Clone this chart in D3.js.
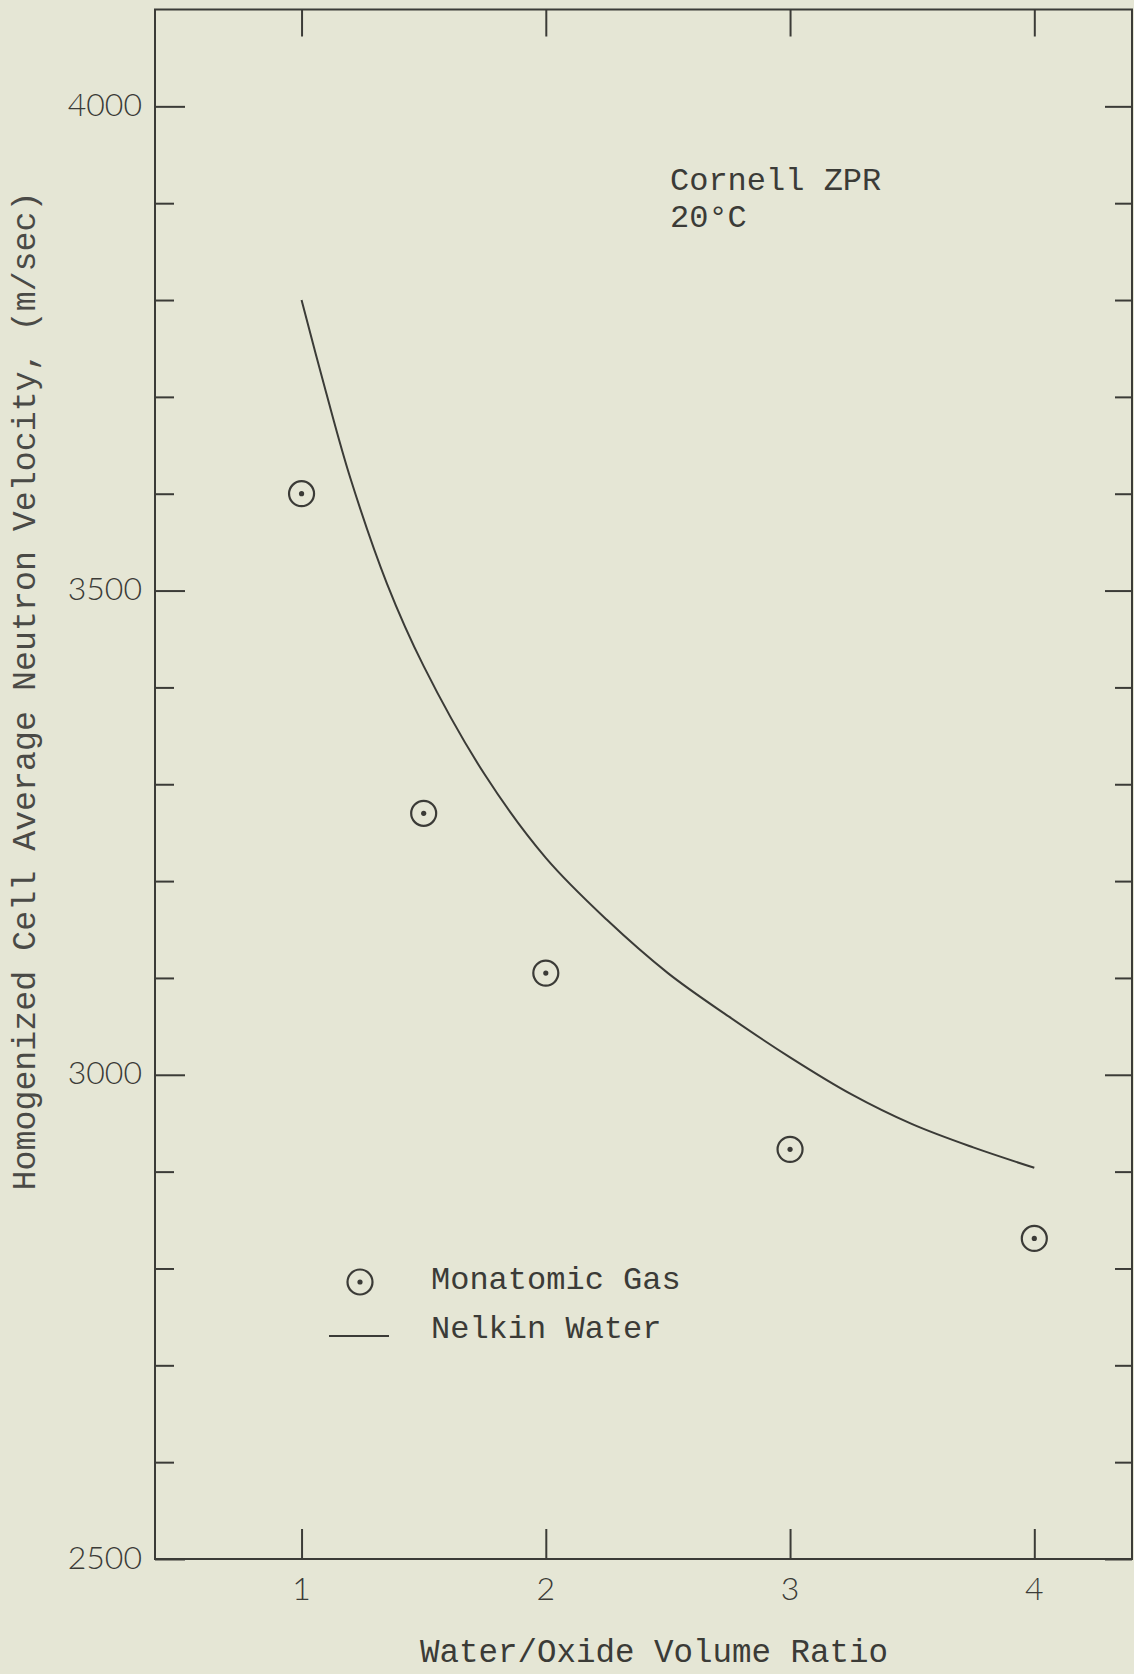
<!DOCTYPE html>
<html>
<head>
<meta charset="utf-8">
<script src="https://cdn.jsdelivr.net/npm/d3@7/dist/d3.min.js"></script>
<style>
  html, body { margin: 0; padding: 0; background: #e5e6d5; }
  svg { display: block; }
</style>
</head>
<body>
<script>
// Monatomic gas model: measured cell-average velocities
const gasRatio    = [1.0, 1.5, 2.0, 3.0, 4.0];
const gasVelocity = [3600, 3270, 3105, 2923, 2831];

// Nelkin water model curve
const nelkinRatio    = [1.0, 1.1, 1.2, 1.35, 1.5, 1.75, 2.0, 2.25, 2.5, 2.75, 3.0, 3.25, 3.5, 3.75, 4.0];
const nelkinVelocity = [3800, 3705, 3616, 3507, 3422, 3310, 3224, 3160, 3105, 3060, 3018, 2980, 2949, 2925, 2904];

// Axis ticks and labels
const xTicks = [1, 2, 3, 4];
const yMajorTicks = [2500, 3000, 3500, 4000];
const yMinorTicks = d3.range(2600, 4100, 100).filter(v => v % 500 !== 0);

const legendLabels = ["Monatomic Gas", "Nelkin Water"];
const noteLines = ["Cornell ZPR", "20\u00B0C"];
const xTitle = "Water/Oxide Volume Ratio";
const yTitle = "Homogenized Cell Average Neutron Velocity, (m/sec)";

const W = 1134, H = 1674;
const ink = "#3b3b37";
const mono = "'Liberation Mono', 'Courier New', monospace";
const sans = "Lato, 'Liberation Sans', sans-serif";

const svg = d3.select("body").append("svg")
  .attr("width", W).attr("height", H);

svg.append("rect").attr("width", W).attr("height", H).attr("fill", "#e5e6d5");

const plotLeft = 155, plotRight = 1132, plotTop = 9.5, plotBottom = 1559;

const x = d3.scaleLinear().domain([0.4, 4.4]).range([plotLeft, plotRight]);
const y = d3.scaleLinear().domain([2500, 4100]).range([plotBottom, plotTop]);

// Frame
svg.append("rect")
  .attr("x", plotLeft).attr("y", plotTop)
  .attr("width", plotRight - plotLeft).attr("height", plotBottom - plotTop)
  .attr("fill", "none").attr("stroke", ink).attr("stroke-width", 2);

// Axes drawn inward on all four sides
function styleAxis(g) {
  g.select(".domain").remove();
  g.selectAll(".tick line").attr("stroke", ink).attr("stroke-width", 2);
}

// left
svg.append("g").attr("transform", `translate(${plotLeft},0)`)
  .call(d3.axisRight(y).tickValues(yMajorTicks).tickSize(30).tickFormat(""))
  .call(styleAxis);
svg.append("g").attr("transform", `translate(${plotLeft},0)`)
  .call(d3.axisRight(y).tickValues(yMinorTicks).tickSize(19).tickFormat(""))
  .call(styleAxis);

// right
svg.append("g").attr("transform", `translate(${plotRight},0)`)
  .call(d3.axisLeft(y).tickValues(yMajorTicks).tickSize(27).tickFormat(""))
  .call(styleAxis);
svg.append("g").attr("transform", `translate(${plotRight},0)`)
  .call(d3.axisLeft(y).tickValues(yMinorTicks).tickSize(17).tickFormat(""))
  .call(styleAxis);

// bottom and top
svg.append("g").attr("transform", `translate(0,${plotBottom})`)
  .call(d3.axisTop(x).tickValues(xTicks).tickSize(30).tickFormat(""))
  .call(styleAxis);
svg.append("g").attr("transform", `translate(0,${plotTop})`)
  .call(d3.axisBottom(x).tickValues(xTicks).tickSize(27).tickFormat(""))
  .call(styleAxis);

// Tick labels
svg.append("g").selectAll("text").data(yMajorTicks).join("text")
  .attr("x", 142).attr("y", d => y(d) - 3)
  .attr("text-anchor", "end").attr("dominant-baseline", "central")
  .attr("font-family", sans).attr("font-weight", 300).attr("font-size", 32)
  .attr("fill", ink).text(d => d);

svg.append("g").selectAll("text").data(xTicks).join("text")
  .attr("x", d => x(d)).attr("y", 1587)
  .attr("text-anchor", "middle").attr("dominant-baseline", "central")
  .attr("font-family", sans).attr("font-weight", 300).attr("font-size", 32)
  .attr("fill", ink).text(d => d);

// Axis titles
svg.append("text")
  .attr("x", 654).attr("y", 1662)
  .attr("text-anchor", "middle")
  .attr("font-family", mono).attr("font-size", 32.5)
  .attr("fill", ink).text(xTitle);

svg.append("text")
  .attr("transform", "translate(35,691) rotate(-90)")
  .attr("text-anchor", "middle")
  .attr("font-family", mono).attr("font-size", 33.3)
  .attr("fill", "#4a4a46").text(yTitle);

// Nelkin water curve
const curveData = nelkinRatio.map((r, i) => [r, nelkinVelocity[i]]);
svg.append("path")
  .datum(curveData)
  .attr("fill", "none").attr("stroke", ink).attr("stroke-width", 2)
  .attr("d", d3.line().x(d => x(d[0])).y(d => y(d[1])).curve(d3.curveCatmullRom.alpha(0.5)));

// Monatomic gas points: circle with centre dot
function drawMarker(g) {
  g.append("circle").attr("r", 12.5)
    .attr("fill", "none").attr("stroke", ink).attr("stroke-width", 2.2);
  g.append("circle").attr("r", 2.6).attr("fill", ink);
}
const gasData = gasRatio.map((r, i) => [r, gasVelocity[i]]);
svg.append("g").selectAll("g").data(gasData).join("g")
  .attr("transform", d => `translate(${x(d[0])},${y(d[1])})`)
  .each(function () { drawMarker(d3.select(this)); });

// Legend
const leg = svg.append("g");
leg.append("g").attr("transform", "translate(360,1282)").call(drawMarker);
leg.append("line")
  .attr("x1", 329).attr("x2", 389).attr("y1", 1336).attr("y2", 1336)
  .attr("stroke", ink).attr("stroke-width", 2);
leg.selectAll("text").data(legendLabels).join("text")
  .attr("x", 431).attr("y", (d, i) => 1289 + i * 49)
  .attr("font-family", mono).attr("font-size", 32)
  .attr("fill", ink).text(d => d);

// Annotation
svg.append("g").selectAll("text").data(noteLines).join("text")
  .attr("x", 670).attr("y", (d, i) => 190 + i * 37)
  .attr("font-family", mono).attr("font-size", 32)
  .attr("fill", ink).text(d => d);
</script>
</body>
</html>
